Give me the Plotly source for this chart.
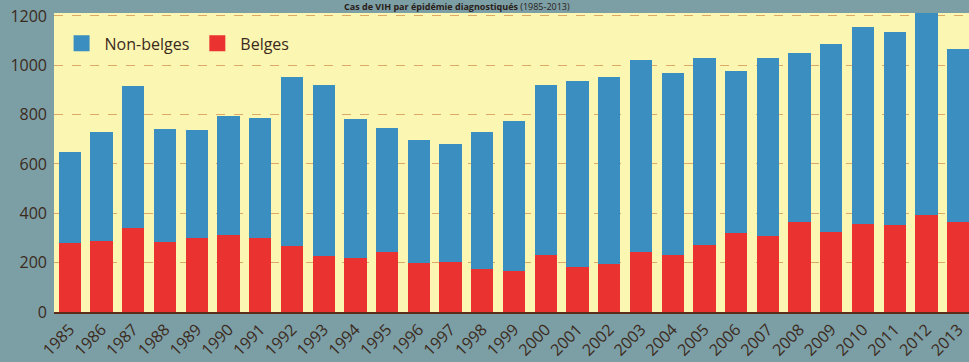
import plotly.graph_objects as go

years = [str(y) for y in range(1985, 2014)]
totals = [650, 731, 918, 743, 739, 796, 788, 954, 921, 784, 747, 699, 683, 731, 776,
          921, 937, 954, 1022, 970, 1030, 978, 1030, 1050, 1087, 1155, 1135, 1240, 1067]
belges = [280, 287, 339, 283, 299, 311, 299, 267, 226, 218, 242, 198, 202, 174, 166,
          230, 182, 194, 242, 230, 271, 319, 307, 364, 323, 356, 351, 392, 364]
non_belges = [t - b for t, b in zip(totals, belges)]

BLUE = "#3a8fc0"
RED = "#ea3330"
TXT = "#3b2a1c"
FONT = "Open Sans"

fig = go.Figure()
fig.add_trace(go.Bar(x=years, y=belges, name="Belges", marker=dict(color=RED, line=dict(width=0)),
                     showlegend=False))
fig.add_trace(go.Bar(x=years, y=non_belges, name="Non-belges", marker=dict(color=BLUE, line=dict(width=0)),
                     showlegend=False))
# legend swatches
fig.add_trace(go.Scatter(x=[None], y=[None], mode="markers", name="Non-belges",
                         marker=dict(symbol="square", size=21, color=BLUE)))
fig.add_trace(go.Scatter(x=[None], y=[None], mode="markers", name="Belges",
                         marker=dict(symbol="square", size=21, color=RED)))

fig.update_layout(
    width=969, height=362,
    barmode="stack", bargap=0.3,
    paper_bgcolor="#7c9ea5",
    plot_bgcolor="#fbf6b2",
    margin=dict(l=54, r=0, t=13, b=50),
    font=dict(family=FONT, color=TXT),
    legend=dict(orientation="h", x=0.005, y=0.955, xanchor="left", yanchor="top",
                bgcolor="rgba(0,0,0,0)", font=dict(size=16, color=TXT),
                itemwidth=36, traceorder="normal"),
    annotations=[dict(text="<b>Cas de VIH par épidémie diagnostiqués</b> (1985-2013)",
                      xref="paper", yref="paper", x=0.44, y=1, yshift=-1,
                      xanchor="center", yanchor="bottom", showarrow=False,
                      borderpad=0, font=dict(size=9, color="#2a2018"))],
)
fig.update_xaxes(type="category", range=[-0.5, 28.34], tickangle=-45,
                 tickfont=dict(size=16, color=TXT), showgrid=False,
                 showline=True, linecolor="#5a2a1a", linewidth=2, ticks="")
fig.update_yaxes(range=[0, 1212], tickvals=[0, 200, 400, 600, 800, 1000, 1200],
                 tickfont=dict(size=16, color=TXT), showgrid=True,
                 gridcolor="#dcaa66", griddash="dash", gridwidth=1,
                 zeroline=False, ticklabelstandoff=6)

fig.write_html("out.html")
